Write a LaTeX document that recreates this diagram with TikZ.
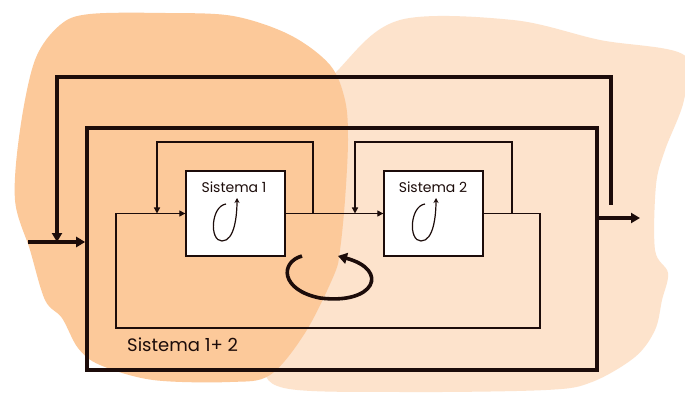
\documentclass[tikz,border=0pt]{standalone}
\usepackage{fontspec}
\setmainfont{Poppins}
\usetikzlibrary{arrows.meta}
\definecolor{blobdark}{RGB}{252,201,154}
\definecolor{bloblight}{RGB}{253,227,204}
\definecolor{ink}{RGB}{28,12,10}
\tikzset{
  thick line/.style={draw=ink, line width=3.6pt},
  thin line/.style={draw=ink, line width=1.3pt},
  sysbox/.style={draw=ink, line width=1.4pt, fill=white, minimum width=99pt, minimum height=85pt, inner sep=0pt},
  systext/.style={font=\fontsize{14}{14}\selectfont, text=ink, inner sep=0pt},
  bigtext/.style={font=\fontsize{18}{18}\selectfont, text=ink, inner sep=0pt, anchor=west},
  bigtip/.style={-{Triangle[length=9pt,width=10pt]}},
  smalltip/.style={-{Triangle[length=6pt,width=6pt]}},
}
\begin{document}
\begin{tikzpicture}[x=1pt,y=-1pt]
\useasboundingbox (0,0) rectangle (685,398);
\fill[white] (0,0) rectangle (685,398);
% background blobs
\fill[bloblight] plot[smooth cycle, tension=0.55] coordinates {
  (400,20) (513,20) (600,40) (684,55) (684,100) (665,150) (656,185)
  (655,250) (668,273) (662,300) (655,330) (635,357) (592,382) (546,390)
  (400,392) (284,388) (262,360) (262,300) (280,150) (340,68)};
\fill[blobdark] plot[smooth cycle, tension=0.55] coordinates {
  (90,14) (165,13) (233,16) (290,35) (330,65) (345,100) (348,140) (345,200)
  (340,250) (334,275) (305,333) (270,375) (230,382) (153,380) (100,365)
  (78,348) (62,318) (45,300) (30,250) (15,200) (20,130) (35,60) (60,25)};
% outer system box
\node[draw=ink, line width=3.6pt, minimum width=510pt, minimum height=242pt, inner sep=0pt] (outer) at (342,249) {};
\node[bigtext] (lbl) at (127,345) {Sistema 1+ 2};
% subsystems
\node[sysbox] (s1) at (235.5,213.5) {};
\node[sysbox] (s2) at (433.5,213.5) {};
\node[systext] (t1) at (234,187) {Sistema 1};
\node[systext] (t2) at (433,187) {Sistema 2};
% junction coordinates
\coordinate (j1out) at (313,213.5);
\coordinate (j1top) at (313,142);
\coordinate (j1lt) at (157,142);
\coordinate (j1in) at (157,213.5);
\coordinate (j2out) at (512,213.5);
\coordinate (j2top) at (512,142);
\coordinate (j2lt) at (355,142);
\coordinate (j2in) at (355,213.5);
\coordinate (fr) at (540,213.5);
\coordinate (fbr) at (540,328);
\coordinate (fbl) at (116,328);
\coordinate (fl) at (116,213.5);
\coordinate (inA) at (28,242);
\coordinate (inB) at (outer.west |- inA);
\coordinate (topE) at (611,205);
\coordinate (topR) at (611,77);
\coordinate (topL) at (57,77);
\coordinate (topD) at (57,242);
\coordinate (outA) at (outer.east |- 0,218);
\coordinate (outB) at (640,218);
% inner connections
\draw[thin line, smalltip] (s1.east) -- (s2.west);
\draw[thin line, smalltip] (s2.east) -- (fr) -- (fbr) -- (fbl) -- (fl) -- (s1.west);
\draw[thin line, smalltip] (j1out) -- (j1top) -- (j1lt) -- (j1in);
\draw[thin line, smalltip] (j2out) -- (j2top) -- (j2lt) -- (j2in);
% outer connections
\draw[thick line, bigtip] (topE) -- (topR) -- (topL) -- (topD);
\draw[thick line, bigtip] (inA) -- (inB);
\draw[thick line, bigtip] (outA) -- (outB);
% small loop arrows
\draw[ink, line width=1.2pt, -{Stealth[length=5pt,width=5pt]}]
  (226,204) .. controls (211,206) and (209,241) .. (222,241)
  .. controls (235,241) and (237,214) .. (237,198);
\draw[ink, line width=1.2pt, -{Stealth[length=5pt,width=5pt]}]
  (425,204) .. controls (410,206) and (408,241) .. (421,241)
  .. controls (434,241) and (436,214) .. (436,198);
% big loop arrow
\draw[ink, line width=3.6pt, -{Triangle[length=9pt,width=11pt]}]
  (302,256) .. controls (280,262) and (280,290) .. (320,298)
  .. controls (375,305) and (390,270) .. (338,256);
\end{tikzpicture}
\end{document}
